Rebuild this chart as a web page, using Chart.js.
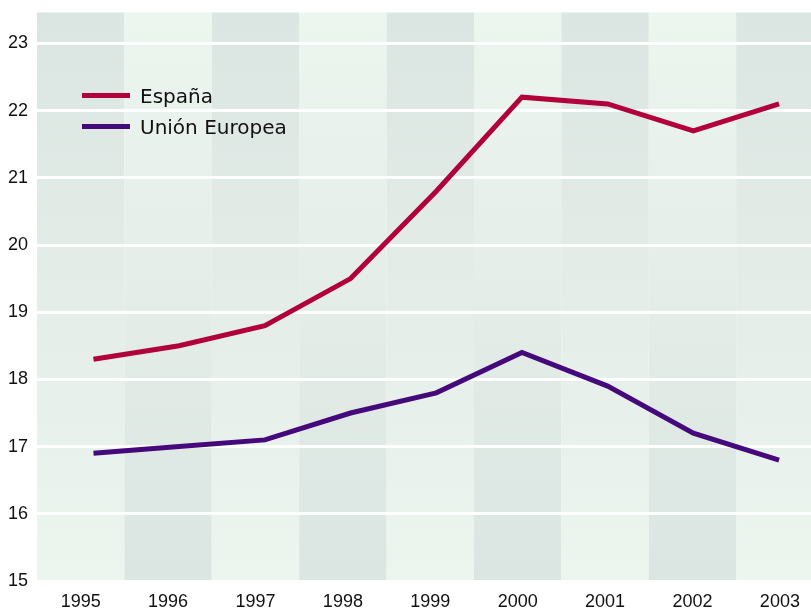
<!DOCTYPE html>
<html lang="es">
<head>
<meta charset="utf-8">
<title>España / Unión Europea</title>
<script src="https://cdn.jsdelivr.net/npm/chart.js@4/dist/chart.umd.min.js"></script>
<style>
  html, body { margin: 0; padding: 0; background: #fff; }
  #wrap { width: 811px; height: 610px; }
</style>
</head>
<body>
<div id="wrap"><canvas id="chart"></canvas></div>
<script>
const years = [1995, 1996, 1997, 1998, 1999, 2000, 2001, 2002, 2003];
const espana = [18.3, 18.5, 18.8, 19.5, 20.8, 22.2, 22.1, 21.7, 22.1];
const unionEuropea = [16.9, 17.0, 17.1, 17.5, 17.8, 18.4, 17.9, 17.2, 16.8];
const yTicks = [15, 16, 17, 18, 19, 20, 21, 22, 23];

const tickFont = { family: "'Liberation Sans', Arial, sans-serif", size: 18 };

// alternating column bands, shading fades from top to bottom
const bandsPlugin = {
  id: 'bands',
  beforeDraw(chart) {
    const { ctx, chartArea: a, scales: { x } } = chart;
    ctx.save();
    years.forEach((yr, i) => {
      const x0 = Math.max(a.left, x.getPixelForValue(yr - 0.5));
      const x1 = Math.min(a.right, x.getPixelForValue(yr + 0.5));
      const g = ctx.createLinearGradient(0, a.top, 0, a.bottom);
      const dark = 'rgb(219,229,225)', light = 'rgb(237,245,239)';
      g.addColorStop(0, i % 2 === 0 ? dark : light);
      g.addColorStop(1, i % 2 === 0 ? light : dark);
      ctx.fillStyle = g;
      ctx.fillRect(x0, a.top, x1 - x0, a.bottom - a.top);
    });
    ctx.restore();
  }
};

// legend drawn inside the plot
const innerLegend = {
  id: 'innerLegend',
  afterDraw(chart) {
    const { ctx, chartArea: a } = chart;
    ctx.save();
    chart.data.datasets.forEach((ds, i) => {
      const y = a.top + 83 + i * 31;
      ctx.strokeStyle = ds.borderColor;
      ctx.lineWidth = 5;
      ctx.beginPath();
      ctx.moveTo(a.left + 45, y);
      ctx.lineTo(a.left + 93, y);
      ctx.stroke();
      ctx.fillStyle = '#111';
      ctx.font = "20px 'DejaVu Sans', sans-serif";
      ctx.textBaseline = 'alphabetic';
      ctx.fillText(ds.label, a.left + 103, y + 7);
    });
    ctx.restore();
  }
};

new Chart(document.getElementById('chart'), {
  type: 'line',
  data: {
    datasets: [
      {
        label: 'España',
        data: years.map((yr, i) => ({ x: yr, y: espana[i] })),
        borderColor: '#b1003b',
        borderWidth: 5,
        pointRadius: 0,
        tension: 0,
        xAxisID: 'xl'
      },
      {
        label: 'Unión Europea',
        data: years.map((yr, i) => ({ x: yr, y: unionEuropea[i] })),
        borderColor: '#45097b',
        borderWidth: 5,
        pointRadius: 0,
        tension: 0,
        xAxisID: 'xl'
      }
    ]
  },
  options: {
    responsive: true,
    maintainAspectRatio: false,
    animation: false,
    layout: { padding: { top: 12.5, right: 0, left: 0, bottom: 0 } },
    plugins: {
      legend: { display: false },
      tooltip: { enabled: false }
    },
    scales: {
      x: {
        type: 'linear',
        position: 'bottom',
        min: 1994.5,
        max: 2003.356,
        afterBuildTicks: s => { s.ticks = years.map(v => ({ value: v })); },
        afterFit: s => { s.height = 29; s.paddingLeft = 0; s.paddingRight = 0; },
        grid: { display: false, drawTicks: false },
        border: { display: false },
        ticks: {
          color: '#111',
          font: tickFont,
          padding: 10,
          maxRotation: 0,
          autoSkip: false,
          callback: v => String(v)
        }
      },
      // the plotted lines sit on a slightly narrower year spacing than the bands
      xl: {
        type: 'linear',
        display: false,
        min: 1994.341,
        max: 2003.373
      },
      y: {
        min: 15,
        max: 23.46,
        afterBuildTicks: s => { s.ticks = yTicks.map(v => ({ value: v })); },
        afterFit: s => { s.width = 37; s.paddingTop = 0; s.paddingBottom = 0; },
        grid: { color: '#fff', lineWidth: 3, drawTicks: false },
        border: { display: false },
        ticks: {
          color: '#111',
          font: tickFont,
          padding: 9
        }
      }
    }
  },
  plugins: [bandsPlugin, innerLegend]
});
</script>
</body>
</html>
